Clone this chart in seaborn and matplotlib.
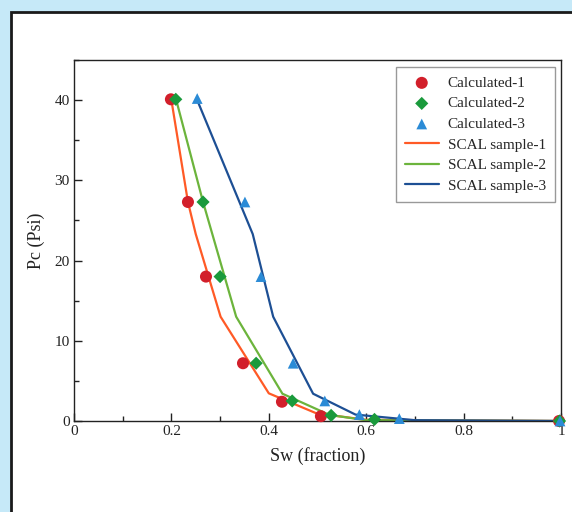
import matplotlib
matplotlib.use("Agg")
import matplotlib.pyplot as plt
import seaborn as sns
import pandas as pd
from matplotlib.patches import Rectangle
from matplotlib.ticker import MultipleLocator

# ---- data ----
sw_calc1 = [0.199, 0.234, 0.271, 0.347, 0.427, 0.507, 0.996]
pc_calc1 = [40.1, 27.3, 18.0, 7.2, 2.4, 0.6, 0.0]
sw_calc2 = [0.209, 0.265, 0.300, 0.374, 0.448, 0.528, 0.617, 0.997]
pc_calc2 = [40.1, 27.3, 18.0, 7.2, 2.5, 0.7, 0.2, 0.0]
sw_calc3 = [0.253, 0.351, 0.384, 0.450, 0.515, 0.586, 0.668, 0.998]
pc_calc3 = [40.2, 27.3, 18.0, 7.2, 2.5, 0.8, 0.3, 0.0]

sw_scal1 = [0.200, 0.234, 0.250, 0.301, 0.400, 0.498, 0.600, 1.000]
pc_scal1 = [40.0, 27.3, 23.3, 13.0, 3.45, 0.95, 0.15, 0.0]
sw_scal2 = [0.210, 0.265, 0.333, 0.428, 0.525, 0.600, 1.000]
pc_scal2 = [40.0, 27.3, 13.0, 3.4, 0.75, 0.1, 0.0]
sw_scal3 = [0.253, 0.367, 0.409, 0.491, 0.578, 0.700, 1.000]
pc_scal3 = [40.0, 23.3, 13.0, 3.4, 0.8, 0.1, 0.0]

calc_names = ["Calculated-1", "Calculated-2", "Calculated-3"]
scal_names = ["SCAL sample-1", "SCAL sample-2", "SCAL sample-3"]
x_tick_labels = ["0", "0.2", "0.4", "0.6", "0.8", "1"]

calc_df = pd.concat([
    pd.DataFrame({"Sw": sw_calc1, "Pc": pc_calc1, "series": calc_names[0]}),
    pd.DataFrame({"Sw": sw_calc2, "Pc": pc_calc2, "series": calc_names[1]}),
    pd.DataFrame({"Sw": sw_calc3, "Pc": pc_calc3, "series": calc_names[2]}),
], ignore_index=True)
scal_df = pd.concat([
    pd.DataFrame({"Sw": sw_scal1, "Pc": pc_scal1, "series": scal_names[0]}),
    pd.DataFrame({"Sw": sw_scal2, "Pc": pc_scal2, "series": scal_names[1]}),
    pd.DataFrame({"Sw": sw_scal3, "Pc": pc_scal3, "series": scal_names[2]}),
], ignore_index=True)

sns.set_style("ticks")
plt.rcParams["font.family"] = ["Liberation Serif", "DejaVu Serif"]

fig = plt.figure(figsize=(5.72, 5.12), dpi=100)
fig.patch.set_facecolor("#c6e9f8")
fig.patches.append(Rectangle((11 / 572, -0.05), 1.1, 1 - 12 / 512 + 0.05,
                             transform=fig.transFigure, facecolor="white",
                             edgecolor="#1a1a1a", linewidth=2.0, zorder=-5))

ax = fig.add_axes([74 / 572, 1 - 421 / 512, (561 - 74) / 572, (421 - 60) / 512])
ax.set_zorder(2)
ax.set_facecolor("white")

line_colors = {scal_names[0]: "#ff5a26", scal_names[1]: "#6cb43c", scal_names[2]: "#1d4f94"}
sns.lineplot(data=scal_df, x="Sw", y="Pc", hue="series", hue_order=scal_names,
             palette=line_colors, sort=False, estimator=None, linewidth=1.6, ax=ax, zorder=2)

pt_colors = {calc_names[0]: "#d21f2b", calc_names[1]: "#1a9a3c", calc_names[2]: "#2b8bd6"}
markers = {calc_names[0]: "o", calc_names[1]: "D", calc_names[2]: "^"}
sizes = {calc_names[0]: 75, calc_names[1]: 45, calc_names[2]: 60}
for name in calc_names:
    sub = calc_df[calc_df["series"] == name]
    sns.scatterplot(data=sub, x="Sw", y="Pc", color=pt_colors[name], marker=markers[name],
                    s=sizes[name], edgecolor="none", label=name, ax=ax, zorder=3, clip_on=False)

ax.set_xlim(0, 1)
ax.set_ylim(0, 45)
ax.xaxis.set_major_locator(MultipleLocator(0.2))
ax.xaxis.set_minor_locator(MultipleLocator(0.1))
ax.yaxis.set_major_locator(MultipleLocator(10))
ax.yaxis.set_minor_locator(MultipleLocator(5))
ax.set_xticks([0, 0.2, 0.4, 0.6, 0.8, 1.0])
ax.set_xticklabels(x_tick_labels)
ax.tick_params(which="major", direction="in", length=5.5, width=1, colors="#222222",
               labelsize=11, top=False, right=False)
ax.tick_params(which="minor", direction="in", length=3.8, width=1, colors="#222222",
               top=False, right=False)
ax.tick_params(axis="x", which="major", pad=3)
ax.tick_params(axis="y", which="major", pad=3)
for s in ax.spines.values():
    s.set_visible(True)
    s.set_linewidth(1.0)
    s.set_color("#222222")
ax.set_xlabel("Sw (fraction)", fontsize=13, color="#222222", labelpad=6.5)
ax.set_ylabel("Pc (Psi)", fontsize=13, color="#222222", labelpad=7)

handles, labels = ax.get_legend_handles_labels()
order = calc_names + scal_names
hmap = dict(zip(labels, handles))
leg = ax.legend([hmap[n] for n in order], order, loc="upper right",
                bbox_to_anchor=((555 - 74) / 487, (421 - 67) / 361), borderaxespad=0,
                fontsize=11, frameon=True,
                fancybox=False, edgecolor="#999999", framealpha=1,
                handlelength=2.2, handletextpad=0.6, labelspacing=0.45, borderpad=0.6)
leg.get_frame().set_linewidth(1.0)

fig.savefig("out.png", dpi=100, facecolor=fig.get_facecolor())
